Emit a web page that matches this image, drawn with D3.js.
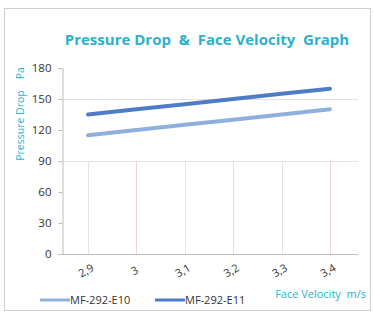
<!DOCTYPE html>
<html>
<head>
<meta charset="utf-8">
<script src="https://cdnjs.cloudflare.com/ajax/libs/d3/7.8.5/d3.min.js"></script>
<style>
  body{margin:0;background:#fff}
  text{font-family:"Open Sans","Liberation Sans",sans-serif}
</style>
</head>
<body>
<div id="chart"></div>
<script>
  // data
  var categories = ['2,9', '3', '3,1', '3,2', '3,3', '3,4'];
  var e10 = [115, 120, 125, 130, 135, 140];
  var e11 = [135, 140, 145, 150, 155, 160];
  var yTicks = [0, 30, 60, 90, 120, 150, 180];
  var seriesNames = ['MF-292-E10', 'MF-292-E11'];
  var seriesColors = ['#8fb0dc', '#4f7cc6'];

  var width = 374, height = 312;
  var teal = '#2eb0cc';

  var svg = d3.select('#chart').append('svg')
    .attr('width', width)
    .attr('height', height);

  // frame
  svg.append('rect')
    .attr('x', 4.5).attr('y', 8.5)
    .attr('width', 366).attr('height', 302)
    .attr('fill', '#fff')
    .attr('stroke', '#cfcfcf');

  var x = d3.scalePoint().domain(categories).range([88, 330]);
  var y = d3.scaleLinear().domain([0, 180]).range([254, 68]);

  // gridlines
  svg.append('g').selectAll('line').data([90, 150]).join('line')
    .attr('x1', 62).attr('x2', 358)
    .attr('y1', function(d){return Math.round(y(d)) + 0.5})
    .attr('y2', function(d){return Math.round(y(d)) + 0.5})
    .attr('stroke', '#e2e2e2');

  svg.append('g').selectAll('line').data(categories).join('line')
    .attr('x1', function(d){return Math.round(x(d)) + 0.5})
    .attr('x2', function(d){return Math.round(x(d)) + 0.5})
    .attr('y1', y(90)).attr('y2', y(0))
    .attr('stroke', function(d, i){return i % 2 ? '#f2d6d6' : '#e4e4e4'});

  // y axis
  var yAxis = svg.append('g')
    .attr('transform', 'translate(62.5,0)')
    .call(d3.axisLeft(y).tickValues(yTicks).tickSize(4).tickPadding(7));
  yAxis.select('.domain').attr('stroke', '#bdbdbd');
  yAxis.selectAll('.tick line').attr('stroke', '#bdbdbd');
  yAxis.selectAll('.tick text').attr('font-size', 11.5).attr('fill', '#333');

  // x axis line
  svg.append('line')
    .attr('x1', 62).attr('x2', 358)
    .attr('y1', 254.5).attr('y2', 254.5)
    .attr('stroke', '#bdbdbd');

  // x tick labels, tilted
  svg.append('g').selectAll('text').data(categories).join('text')
    .attr('transform', function(d){return 'translate(' + x(d) + ',274) rotate(-30)'})
    .attr('text-anchor', 'middle')
    .attr('font-size', 11)
    .attr('fill', '#333')
    .text(function(d){return d});

  // lines
  var line = d3.line()
    .x(function(d, i){return x(categories[i])})
    .y(function(d){return y(d)});

  [e10, e11].forEach(function(s, i){
    svg.append('path')
      .datum(s)
      .attr('d', line)
      .attr('fill', 'none')
      .attr('stroke', seriesColors[i])
      .attr('stroke-width', 4)
      .attr('stroke-linecap', 'round');
  });

  // title
  svg.append('text')
    .attr('x', 207).attr('y', 45)
    .attr('text-anchor', 'middle')
    .attr('font-size', 15)
    .attr('font-weight', 'bold')
    .attr('fill', teal)
    .attr('xml:space', 'preserve')
    .text('Pressure Drop  &  Face Velocity  Graph');

  // y axis title
  svg.append('text')
    .attr('transform', 'translate(24,114) rotate(-90)')
    .attr('text-anchor', 'middle')
    .attr('font-size', 10.5)
    .attr('fill', teal)
    .attr('xml:space', 'preserve')
    .text('Pressure Drop    Pa');

  // legend
  var legend = svg.append('g').selectAll('g').data(seriesNames).join('g')
    .attr('transform', function(d, i){return 'translate(' + (40 + i * 115) + ',300)'});
  legend.append('line')
    .attr('x1', 0).attr('x2', 30)
    .attr('stroke', function(d, i){return seriesColors[i]})
    .attr('stroke-width', 3);
  legend.append('text')
    .attr('x', 30).attr('y', 4)
    .attr('font-size', 11)
    .attr('fill', '#333')
    .text(function(d){return d});

  // x axis title
  svg.append('text')
    .attr('x', 366).attr('y', 298)
    .attr('text-anchor', 'end')
    .attr('font-size', 11)
    .attr('fill', teal)
    .attr('xml:space', 'preserve')
    .text('Face Velocity  m/s');
</script>
</body>
</html>
